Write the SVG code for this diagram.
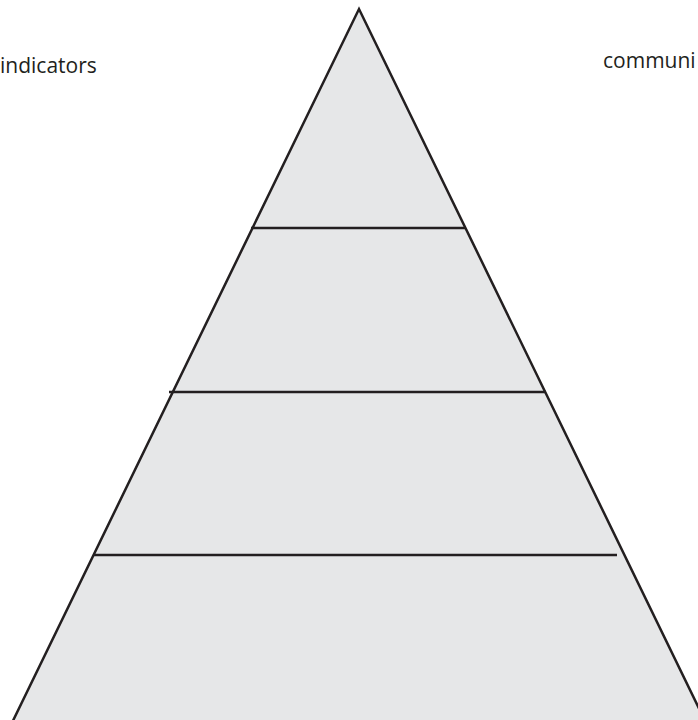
<svg xmlns="http://www.w3.org/2000/svg" width="698" height="720" viewBox="0 0 698 720">
  <style>
    .lbl { font-family: "Open Sans", "Noto Sans", "Liberation Sans", sans-serif; font-size: 21px; fill: #231f20; }
    .tier { fill: #e6e7e8; stroke: none; }
    .edge { fill: none; stroke: #231f20; stroke-width: 2.5; stroke-linejoin: miter; }
    .divider { stroke: #231f20; stroke-width: 2.5; }
  </style>
  <rect width="698" height="720" fill="#ffffff"/>

  <!-- pyramid body -->
  <g id="pyramid">
    <polygon class="tier" points="359,9 8,731 710,731"/>
    <polyline class="edge" points="8,731 359,9 710,731"/>
  </g>

  <!-- tier dividers -->
  <g id="dividers">
    <line class="divider" x1="251" y1="228" x2="465" y2="228"/>
    <line class="divider" x1="169" y1="392" x2="546" y2="392"/>
    <line class="divider" x1="93" y1="555" x2="617" y2="555"/>
  </g>

  <!-- side labels -->
  <g id="label-left">
    <text class="lbl" x="0" y="73">indicators</text>
  </g>
  <g id="label-right">
    <text class="lbl" x="603" y="68">communi</text>
  </g>
</svg>
